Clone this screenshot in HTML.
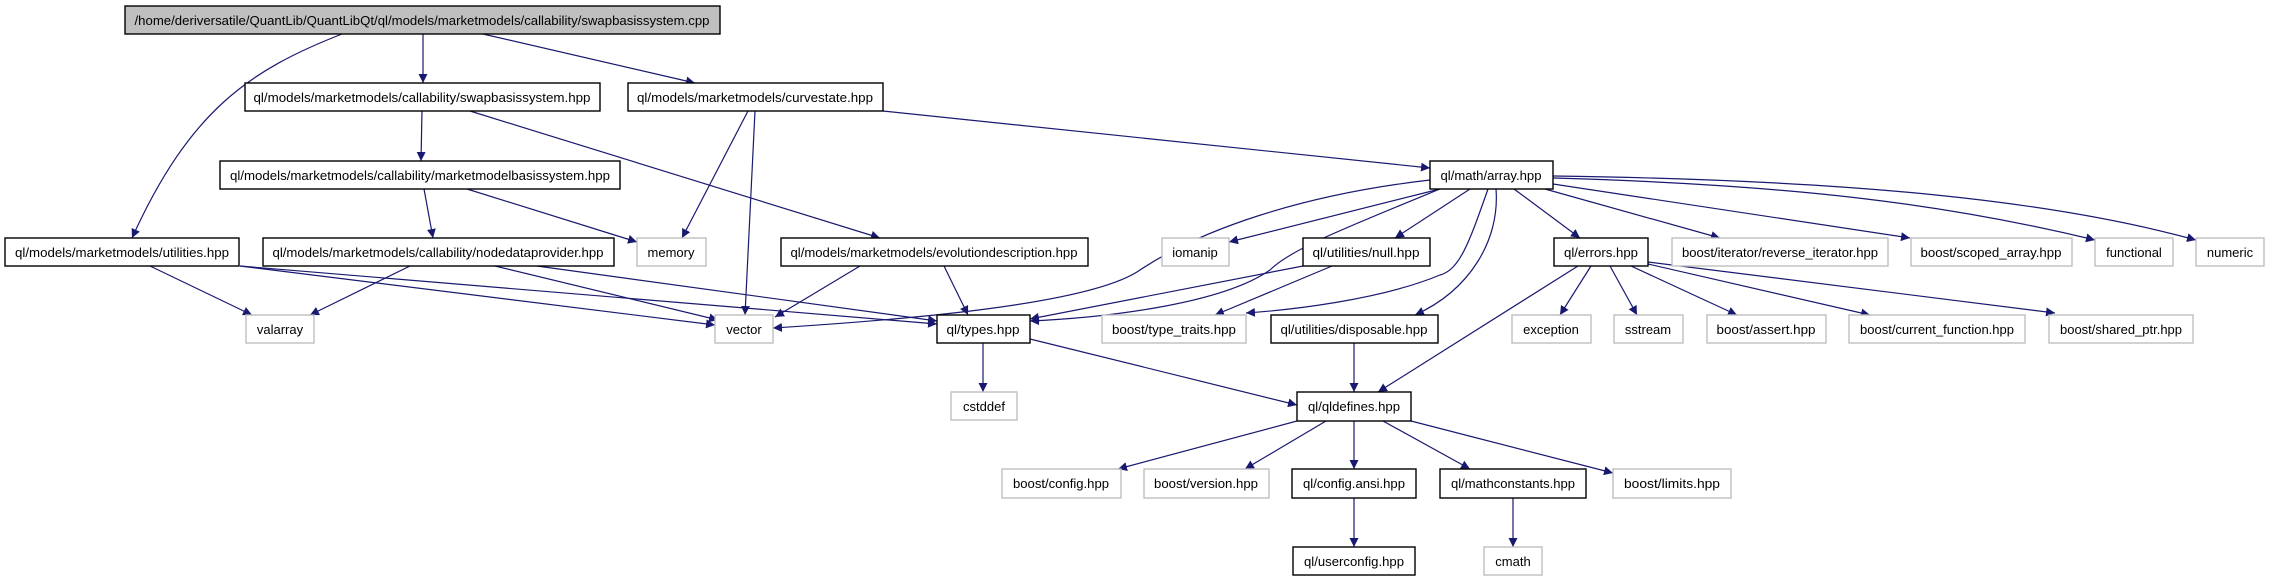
<!DOCTYPE html>
<html><head><meta charset="utf-8"><style>
html,body{margin:0;padding:0;background:#fff;}
svg{display:block;}
text{font-family:"Liberation Sans",sans-serif;font-size:13px;fill:#000;}
.b{fill:#fff;stroke:#000;stroke-width:1.4;}
.g{fill:#fff;stroke:#bfbfbf;stroke-width:1.4;}
.e{fill:none;stroke:#191970;stroke-width:1.2;marker-end:url(#a);}
</style></head><body>
<svg width="2269" height="581" viewBox="0 0 2269 581" xmlns="http://www.w3.org/2000/svg">
<defs><marker id="a" viewBox="0 0 10 10" refX="10" refY="5" markerWidth="9" markerHeight="9" markerUnits="userSpaceOnUse" orient="auto"><path d="M0,0 L10,5 L0,10 z" fill="#191970"/></marker></defs>
<g>
<path class="e" d="M342,34 C250,70 190,110 132,238"/>
<path class="e" d="M423,34 L423,83"/>
<path class="e" d="M483,34 L695,83"/>
<path class="e" d="M422,111 L421,161"/>
<path class="e" d="M470,111 L880,238"/>
<path class="e" d="M748,111 L682,238"/>
<path class="e" d="M755,111 L745,315"/>
<path class="e" d="M883,111 L1430,168"/>
<path class="e" d="M424,189 L433,238"/>
<path class="e" d="M467,189 L637,242"/>
<path class="e" d="M150,266 L252,315"/>
<path class="e" d="M240,266 L715,325"/>
<path class="e" d="M240,266 L937,324"/>
<path class="e" d="M410,266 L310,315"/>
<path class="e" d="M495,266 L718,320"/>
<path class="e" d="M537,266 L937,321"/>
<path class="e" d="M860,266 L775,317"/>
<path class="e" d="M944,266 L968,315"/>
<path class="e" d="M1430,180 C1300,195 1200,230 1140,270 C1090,305 900,320 773,328"/>
<path class="e" d="M1440,189 L1229,242"/>
<path class="e" d="M1440,189 C1340,230 1290,250 1270,270 C1220,305 1100,318 1030,321"/>
<path class="e" d="M1303,266 L1030,319"/>
<path class="e" d="M1470,189 L1395,238"/>
<path class="e" d="M1488,189 C1470,240 1460,270 1440,275 C1380,300 1290,310 1246,313"/>
<path class="e" d="M1496,189 C1500,240 1470,290 1415,315"/>
<path class="e" d="M1514,189 L1580,238"/>
<path class="e" d="M1545,189 L1720,238"/>
<path class="e" d="M1553,184 L1910,238"/>
<path class="e" d="M1553,178 C1800,185 1950,205 2095,240"/>
<path class="e" d="M1553,176 C1850,180 2050,200 2196,240"/>
<path class="e" d="M1332,266 L1215,315"/>
<path class="e" d="M983,343 L983,392"/>
<path class="e" d="M1030,339 L1297,405"/>
<path class="e" d="M1354,343 L1354,392"/>
<path class="e" d="M1578,266 L1378,392"/>
<path class="e" d="M1591,266 L1560,315"/>
<path class="e" d="M1610,266 L1637,315"/>
<path class="e" d="M1631,266 L1737,315"/>
<path class="e" d="M1648,264 L1870,315"/>
<path class="e" d="M1648,262 L2055,313"/>
<path class="e" d="M1297,421 L1118,469"/>
<path class="e" d="M1326,421 L1245,469"/>
<path class="e" d="M1354,421 L1354,469"/>
<path class="e" d="M1383,421 L1470,469"/>
<path class="e" d="M1411,421 L1613,473"/>
<path class="e" d="M1354,498 L1354,547"/>
<path class="e" d="M1513,498 L1513,547"/>
</g>
<g>
<rect x="125" y="6" width="595" height="28" fill="#bfbfbf" stroke="#000" stroke-width="1.4"/><text x="422" y="25" text-anchor="middle" textLength="575" lengthAdjust="spacingAndGlyphs">/home/deriversatile/QuantLib/QuantLibQt/ql/models/marketmodels/callability/swapbasissystem.cpp</text>
<rect class="b" x="245" y="83" width="355" height="28"/><text x="422" y="102" text-anchor="middle" textLength="337" lengthAdjust="spacingAndGlyphs">ql/models/marketmodels/callability/swapbasissystem.hpp</text>
<rect class="b" x="628" y="83" width="255" height="28"/><text x="755" y="102" text-anchor="middle" textLength="236" lengthAdjust="spacingAndGlyphs">ql/models/marketmodels/curvestate.hpp</text>
<rect class="b" x="220" y="161" width="400" height="28"/><text x="420" y="180" text-anchor="middle" textLength="380" lengthAdjust="spacingAndGlyphs">ql/models/marketmodels/callability/marketmodelbasissystem.hpp</text>
<rect class="b" x="1430" y="161" width="123" height="28"/><text x="1491" y="180" text-anchor="middle" textLength="101" lengthAdjust="spacingAndGlyphs">ql/math/array.hpp</text>
<rect class="b" x="5" y="238" width="234" height="28"/><text x="122" y="257" text-anchor="middle" textLength="214" lengthAdjust="spacingAndGlyphs">ql/models/marketmodels/utilities.hpp</text>
<rect class="b" x="263" y="238" width="351" height="28"/><text x="438" y="257" text-anchor="middle" textLength="331" lengthAdjust="spacingAndGlyphs">ql/models/marketmodels/callability/nodedataprovider.hpp</text>
<rect class="g" x="637" y="238" width="69" height="28"/><text x="671" y="257" text-anchor="middle">memory</text>
<rect class="b" x="781" y="238" width="307" height="28"/><text x="934" y="257" text-anchor="middle" textLength="287" lengthAdjust="spacingAndGlyphs">ql/models/marketmodels/evolutiondescription.hpp</text>
<rect class="g" x="1162" y="238" width="67" height="28"/><text x="1195" y="257" text-anchor="middle">iomanip</text>
<rect class="b" x="1303" y="238" width="127" height="28"/><text x="1366" y="257" text-anchor="middle" textLength="107" lengthAdjust="spacingAndGlyphs">ql/utilities/null.hpp</text>
<rect class="b" x="1554" y="238" width="94" height="28"/><text x="1601" y="257" text-anchor="middle" textLength="74" lengthAdjust="spacingAndGlyphs">ql/errors.hpp</text>
<rect class="g" x="1672" y="238" width="216" height="28"/><text x="1780" y="257" text-anchor="middle" textLength="196" lengthAdjust="spacingAndGlyphs">boost/iterator/reverse_iterator.hpp</text>
<rect class="g" x="1911" y="238" width="161" height="28"/><text x="1991" y="257" text-anchor="middle" textLength="141" lengthAdjust="spacingAndGlyphs">boost/scoped_array.hpp</text>
<rect class="g" x="2095" y="238" width="78" height="28"/><text x="2134" y="257" text-anchor="middle">functional</text>
<rect class="g" x="2196" y="238" width="68" height="28"/><text x="2230" y="257" text-anchor="middle">numeric</text>
<rect class="g" x="246" y="315" width="68" height="28"/><text x="280" y="334" text-anchor="middle">valarray</text>
<rect class="g" x="715" y="315" width="58" height="28"/><text x="744" y="334" text-anchor="middle">vector</text>
<rect class="b" x="937" y="315" width="93" height="28"/><text x="983" y="334" text-anchor="middle" textLength="73" lengthAdjust="spacingAndGlyphs">ql/types.hpp</text>
<rect class="g" x="1102" y="315" width="144" height="28"/><text x="1174" y="334" text-anchor="middle" textLength="124" lengthAdjust="spacingAndGlyphs">boost/type_traits.hpp</text>
<rect class="b" x="1271" y="315" width="167" height="28"/><text x="1354" y="334" text-anchor="middle" textLength="147" lengthAdjust="spacingAndGlyphs">ql/utilities/disposable.hpp</text>
<rect class="g" x="1512" y="315" width="79" height="28"/><text x="1551" y="334" text-anchor="middle">exception</text>
<rect class="g" x="1614" y="315" width="69" height="28"/><text x="1648" y="334" text-anchor="middle">sstream</text>
<rect class="g" x="1707" y="315" width="119" height="28"/><text x="1766" y="334" text-anchor="middle" textLength="99" lengthAdjust="spacingAndGlyphs">boost/assert.hpp</text>
<rect class="g" x="1849" y="315" width="176" height="28"/><text x="1937" y="334" text-anchor="middle" textLength="154" lengthAdjust="spacingAndGlyphs">boost/current_function.hpp</text>
<rect class="g" x="2049" y="315" width="144" height="28"/><text x="2121" y="334" text-anchor="middle" textLength="122" lengthAdjust="spacingAndGlyphs">boost/shared_ptr.hpp</text>
<rect class="g" x="951" y="392" width="66" height="28"/><text x="984" y="411" text-anchor="middle">cstddef</text>
<rect class="b" x="1297" y="392" width="114" height="29"/><text x="1354" y="411" text-anchor="middle" textLength="92" lengthAdjust="spacingAndGlyphs">ql/qldefines.hpp</text>
<rect class="g" x="1002" y="469" width="119" height="29"/><text x="1061" y="488" text-anchor="middle" textLength="96" lengthAdjust="spacingAndGlyphs">boost/config.hpp</text>
<rect class="g" x="1144" y="469" width="125" height="29"/><text x="1206" y="488" text-anchor="middle" textLength="104" lengthAdjust="spacingAndGlyphs">boost/version.hpp</text>
<rect class="b" x="1292" y="469" width="124" height="29"/><text x="1354" y="488" text-anchor="middle" textLength="102" lengthAdjust="spacingAndGlyphs">ql/config.ansi.hpp</text>
<rect class="b" x="1440" y="469" width="146" height="29"/><text x="1513" y="488" text-anchor="middle" textLength="124" lengthAdjust="spacingAndGlyphs">ql/mathconstants.hpp</text>
<rect class="g" x="1613" y="469" width="118" height="29"/><text x="1672" y="488" text-anchor="middle" textLength="96" lengthAdjust="spacingAndGlyphs">boost/limits.hpp</text>
<rect class="b" x="1293" y="547" width="122" height="28"/><text x="1354" y="566" text-anchor="middle" textLength="100" lengthAdjust="spacingAndGlyphs">ql/userconfig.hpp</text>
<rect class="g" x="1484" y="547" width="58" height="28"/><text x="1513" y="566" text-anchor="middle">cmath</text>
</g>
</svg>
</body></html>
